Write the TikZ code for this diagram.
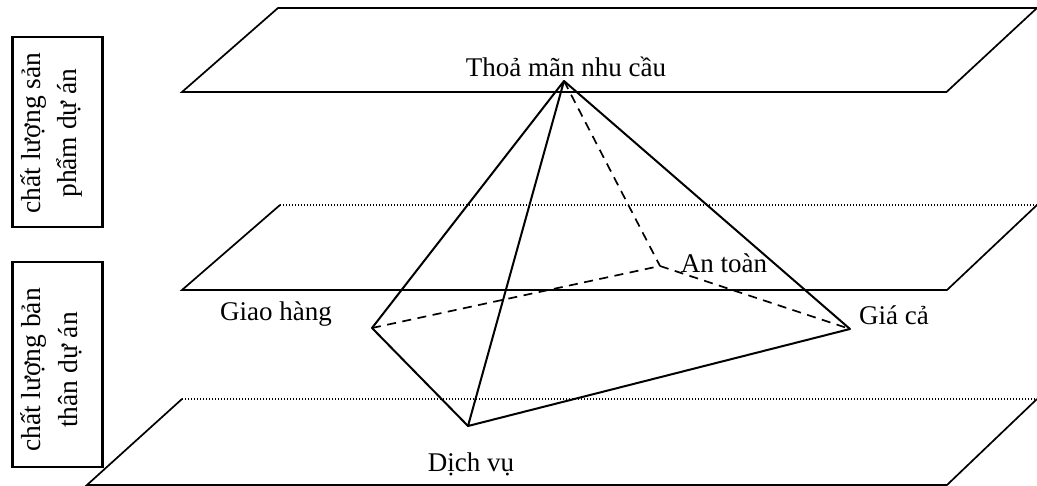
\documentclass[tikz,border=0pt]{standalone}
\usepackage{fontspec}
\setmainfont{Liberation Serif}
\tikzset{
  plane/.style={line width=1.7pt,black,line cap=round},
  dots/.style={line width=1.2pt,dash pattern=on 1.3pt off 1.7pt},
  solidedge/.style={line width=2pt,line cap=round,line join=round},
  hidden/.style={line width=1.7pt,dash pattern=on 9pt off 6.5pt},
  lab/.style={inner sep=0pt,font=\fontsize{27}{31}\selectfont},
  sidebox/.style={draw,line width=2.2pt,minimum height=90pt,rotate=90,inner sep=0pt},
  sidetext/.style={rotate=90,align=center,inner sep=0pt,font=\fontsize{27.5}{36.5}\selectfont}
}
\begin{document}
\begin{tikzpicture}[x=1pt,y=-1pt]
\useasboundingbox (0,0) rectangle (1037,486);
% planes
\coordinate (a1) at (182,92); \coordinate (a2) at (278,8); \coordinate (a3) at (1037,8); \coordinate (a4) at (946.5,92);
\coordinate (b1) at (182,290); \coordinate (b2) at (280,205); \coordinate (b3) at (1037,205); \coordinate (b4) at (947,290);
\coordinate (c1) at (87,485); \coordinate (c2) at (182,399); \coordinate (c3) at (1037,399); \coordinate (c4) at (947,485);
\draw[plane] (a1) -- (a2) -- (a3) -- (a4) -- cycle;
\draw[plane] (b3) -- (b4) -- (b1) -- (b2);
\draw[dots] (b2) -- (b3);
\draw[plane] (c3) -- (c4) -- (c1) -- (c2);
\draw[dots] (c2) -- (c3);
% pyramid
\coordinate (top) at (564,81); \coordinate (gh) at (372,328); \coordinate (dv) at (468,426);
\coordinate (gc) at (850,329); \coordinate (at) at (660,266);
\draw[solidedge] (gh) -- (top) -- (gc) -- (dv) -- (top);
\draw[solidedge] (gh) -- (dv);
\draw[hidden] (top) -- (at);
\draw[hidden] (gh) -- (at);
\draw[hidden] (at) -- (gc);
% labels
\node[lab] (t1) at (566,67) {Thoả mãn nhu cầu};
\node[lab] (t2) at (724,263) {An toàn};
\node[lab] (t3) at (276,314) {Giao hàng};
\node[lab] (t4) at (894,315) {Giá cả};
\node[lab] (t5) at (471,464) {Dịch vụ};
\node[sidebox,minimum width=190pt] (s1) at (57.5,132) {};
\node[sidebox,minimum width=205pt] (s2) at (57.5,364.5) {};
\node[sidetext] (s1t) at (51.5,133) {chất lượng sản\\phẩm dự án};
\node[sidetext] (s2t) at (51.5,370) {chất lượng bản\\thân dự án};
\end{tikzpicture}
\end{document}
